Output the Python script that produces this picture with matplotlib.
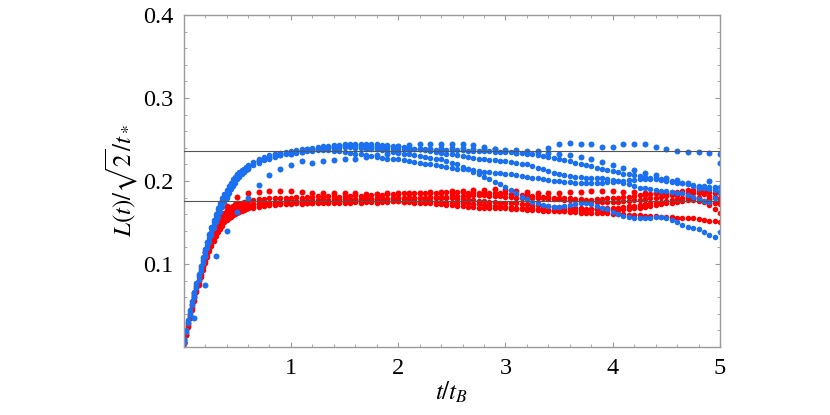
import numpy as np
import matplotlib
matplotlib.use("Agg")
import matplotlib.pyplot as plt
from matplotlib.ticker import MultipleLocator, FixedLocator

plt.rcParams['font.family'] = ['Liberation Serif', 'STIXGeneral']
plt.rcParams['mathtext.fontset'] = 'stix'

# time samples (t / t_B): dense runs are sampled finely during the rise
T_EARLY = np.round(np.arange(0, 0.59, 0.02), 2)
T_LATE = np.round(np.arange(0.6, 5.0001, 0.05), 2)
T_DENSE = np.concatenate([T_EARLY, T_LATE])
T_SPARSE = np.round(np.arange(0, 5.0001, 0.1), 2)

# reference plateau levels
LEVEL_BLUE = 0.236
LEVEL_RED = 0.176

# ---- red runs ----
RED_SPARSE = [
    0.006, 0.065, 0.115, 0.150, 0.170, 0.181, 0.185, 0.187, 0.188, 0.188,
    0.188, 0.187, 0.186, 0.186, 0.185, 0.185, 0.185, 0.184, 0.184, 0.185,
    0.185, 0.186, 0.186, 0.187, 0.187, 0.188, 0.188, 0.189, 0.189, 0.190,
    0.189, 0.188, 0.187, 0.186, 0.186, 0.186, 0.187, 0.187, 0.188, 0.188,
    0.188, 0.187, 0.187, 0.186, 0.185, 0.184, 0.183, 0.182, 0.180, 0.178,
    0.176,
]
RED_A = [
    # rise, every 0.02
    0.006, 0.017, 0.029, 0.040, 0.052, 0.063, 0.074, 0.084, 0.094, 0.104,
    0.113, 0.121, 0.129, 0.135, 0.141, 0.147, 0.151, 0.155, 0.159, 0.162,
    0.165, 0.167, 0.169, 0.170, 0.172, 0.173, 0.174, 0.174, 0.175, 0.175,
    # from t = 0.6, every 0.05
    0.176, 0.177, 0.178, 0.178, 0.179, 0.179, 0.180, 0.180,
    0.180, 0.181, 0.180, 0.181, 0.181, 0.182, 0.181, 0.182, 0.182, 0.181,
    0.182, 0.182, 0.183, 0.182, 0.183, 0.183, 0.184, 0.183, 0.184, 0.184,
    0.184, 0.185, 0.184, 0.185, 0.185, 0.186, 0.185, 0.186, 0.186, 0.187,
    0.186, 0.187, 0.187, 0.186, 0.187, 0.186, 0.186, 0.185, 0.186, 0.185,
    0.185, 0.184, 0.184, 0.183, 0.183, 0.182, 0.182, 0.181, 0.181, 0.180,
    0.180, 0.179, 0.179, 0.178, 0.178, 0.177, 0.177, 0.178, 0.178, 0.179,
    0.179, 0.180, 0.181, 0.181, 0.182, 0.183, 0.183, 0.184, 0.185, 0.185,
    0.186, 0.187, 0.187, 0.188, 0.189, 0.189, 0.188, 0.188, 0.187, 0.186,
    0.186,
]
RED_B = [
    0.005, 0.015, 0.026, 0.037, 0.048, 0.059, 0.069, 0.079, 0.088, 0.097,
    0.106, 0.114, 0.121, 0.128, 0.134, 0.140, 0.144, 0.148, 0.152, 0.156,
    0.159, 0.161, 0.163, 0.165, 0.166, 0.167, 0.168, 0.169, 0.169, 0.170,
    0.171, 0.172, 0.173, 0.174, 0.174, 0.175, 0.175, 0.176,
    0.176, 0.176, 0.177, 0.176, 0.177, 0.177, 0.178, 0.177, 0.178, 0.178,
    0.178, 0.177, 0.178, 0.178, 0.179, 0.178, 0.179, 0.179, 0.178, 0.179,
    0.179, 0.179, 0.180, 0.179, 0.180, 0.180, 0.179, 0.180, 0.180, 0.179,
    0.179, 0.178, 0.178, 0.177, 0.177, 0.176, 0.176, 0.175, 0.175, 0.174,
    0.174, 0.173, 0.173, 0.172, 0.172, 0.171, 0.171, 0.170, 0.170, 0.169,
    0.169, 0.168, 0.168, 0.167, 0.167, 0.166, 0.166, 0.166, 0.165, 0.165,
    0.165, 0.165, 0.166, 0.166, 0.167, 0.168, 0.169, 0.170, 0.171, 0.172,
    0.173, 0.174, 0.175, 0.176, 0.177, 0.177, 0.176, 0.175, 0.174, 0.173,
    0.172,
]
RED_C = [
    0.004, 0.014, 0.024, 0.035, 0.045, 0.056, 0.066, 0.075, 0.084, 0.093,
    0.101, 0.108, 0.116, 0.122, 0.128, 0.134, 0.138, 0.142, 0.146, 0.150,
    0.153, 0.155, 0.157, 0.159, 0.160, 0.162, 0.163, 0.164, 0.165, 0.166,
    0.167, 0.168, 0.169, 0.170, 0.171, 0.171, 0.172, 0.172,
    0.172, 0.173, 0.172, 0.173, 0.173, 0.174, 0.173, 0.174, 0.174, 0.173,
    0.174, 0.174, 0.175, 0.174, 0.175, 0.175, 0.174, 0.175, 0.175, 0.176,
    0.176, 0.175, 0.176, 0.176, 0.175, 0.176, 0.176, 0.175, 0.175, 0.174,
    0.174, 0.174, 0.173, 0.173, 0.172, 0.172, 0.171, 0.171, 0.170, 0.170,
    0.169, 0.169, 0.168, 0.168, 0.167, 0.167, 0.166, 0.166, 0.165, 0.165,
    0.164, 0.164, 0.163, 0.163, 0.162, 0.162, 0.162, 0.161, 0.161, 0.161,
    0.160, 0.160, 0.160, 0.159, 0.159, 0.159, 0.158, 0.158, 0.158, 0.157,
    0.157, 0.157, 0.156, 0.156, 0.155, 0.155, 0.154, 0.153, 0.152, 0.152,
    0.151,
]
RED_D = [
    0.006, 0.017, 0.028, 0.039, 0.050, 0.061, 0.071, 0.081, 0.091, 0.100,
    0.109, 0.117, 0.125, 0.131, 0.137, 0.143, 0.148, 0.152, 0.156, 0.159,
    0.161, 0.163, 0.165, 0.167, 0.168, 0.169, 0.170, 0.170, 0.170, 0.171,
    0.171, 0.172, 0.172, 0.173, 0.173, 0.174, 0.174, 0.174,
    0.174, 0.175, 0.175, 0.174, 0.175, 0.175, 0.176, 0.175, 0.176, 0.176,
    0.176, 0.177, 0.176, 0.177, 0.177, 0.176, 0.177, 0.177, 0.176, 0.176,
    0.176, 0.175, 0.175, 0.174, 0.174, 0.173, 0.173, 0.172, 0.172, 0.171,
    0.171, 0.170, 0.170, 0.169, 0.169, 0.168, 0.168, 0.168, 0.167, 0.167,
    0.167, 0.166, 0.166, 0.166, 0.165, 0.165, 0.165, 0.164, 0.164, 0.164,
    0.164, 0.164, 0.164, 0.165, 0.165, 0.165, 0.166, 0.166, 0.167, 0.167,
    0.168, 0.168, 0.169, 0.170, 0.170, 0.171, 0.172, 0.173, 0.174, 0.175,
    0.176, 0.177, 0.178, 0.179, 0.180, 0.180, 0.179, 0.176, 0.171, 0.166,
    0.162,
]
RED_E = [
    0.005, 0.015, 0.025, 0.036, 0.047, 0.057, 0.067, 0.077, 0.087, 0.096,
    0.104, 0.111, 0.119, 0.125, 0.131, 0.137, 0.141, 0.145, 0.149, 0.153,
    0.156, 0.158, 0.160, 0.162, 0.163, 0.164, 0.165, 0.166, 0.166, 0.167,
    0.168, 0.169, 0.170, 0.171, 0.171, 0.172, 0.172, 0.173,
    0.173, 0.173, 0.174, 0.174, 0.174, 0.175, 0.175, 0.175, 0.176, 0.176,
    0.176, 0.176, 0.177, 0.177, 0.177, 0.178, 0.178, 0.178, 0.178, 0.179,
    0.179, 0.179, 0.179, 0.180, 0.180, 0.180, 0.181, 0.181, 0.181, 0.181,
    0.182, 0.182, 0.182, 0.182, 0.183, 0.183, 0.183, 0.182, 0.182, 0.182,
    0.181, 0.181, 0.180, 0.180, 0.180, 0.179, 0.179, 0.179, 0.178, 0.178,
    0.178, 0.177, 0.177, 0.177, 0.176, 0.176, 0.176, 0.175, 0.175, 0.175,
    0.175, 0.175, 0.176, 0.176, 0.177, 0.177, 0.178, 0.179, 0.180, 0.181,
    0.182, 0.183, 0.184, 0.185, 0.186, 0.186, 0.185, 0.184, 0.182, 0.181,
    0.180,
]

# ---- blue runs ----
BLUE_SPARSE_A = [
    0.010, 0.060, 0.110, 0.152, 0.182, 0.203, 0.216, 0.224, 0.228, 0.231,
    0.232, 0.235, 0.238, 0.240, 0.242, 0.243, 0.243, 0.243, 0.242, 0.242,
    0.242, 0.243, 0.244, 0.245, 0.245, 0.244, 0.244, 0.243, 0.241, 0.239,
    0.236, 0.234, 0.234, 0.236, 0.240, 0.244, 0.246, 0.245, 0.244, 0.241,
    0.241, 0.244, 0.245, 0.244, 0.241, 0.238, 0.236, 0.235, 0.235, 0.234,
    0.233,
]
BLUE_SPARSE_B = [
    0.005, 0.035, 0.075, 0.110, 0.140, 0.163, 0.180, 0.195, 0.207, 0.214,
    0.219, 0.224, 0.222, 0.224, 0.225, 0.226, 0.227, 0.229, 0.231, 0.233,
    0.235, 0.237, 0.238, 0.239, 0.240, 0.240, 0.240, 0.239, 0.238, 0.238,
    0.237, 0.237, 0.236, 0.235, 0.234, 0.233, 0.231, 0.229, 0.226, 0.223,
    0.219, 0.216, 0.213, 0.210, 0.207, 0.204, 0.201, 0.197, 0.192, 0.200,
    0.222,
]
BLUE_A = [
    0.009, 0.020, 0.031, 0.043, 0.054, 0.065, 0.076, 0.087, 0.097, 0.107,
    0.117, 0.126, 0.135, 0.143, 0.151, 0.158, 0.165, 0.171, 0.177, 0.182,
    0.187, 0.192, 0.196, 0.200, 0.203, 0.207, 0.209, 0.212, 0.214, 0.216,
    0.218, 0.222, 0.225, 0.228, 0.230, 0.232, 0.233, 0.234,
    0.235, 0.236, 0.237, 0.238, 0.238, 0.239, 0.239, 0.240, 0.240, 0.240,
    0.241, 0.241, 0.240, 0.240, 0.239, 0.238, 0.238, 0.237, 0.236, 0.235,
    0.234, 0.233, 0.232, 0.231, 0.230, 0.229, 0.228, 0.227, 0.226, 0.224,
    0.222, 0.220, 0.217, 0.214, 0.211, 0.208, 0.205, 0.202, 0.199, 0.196,
    0.193, 0.189, 0.185, 0.181, 0.178, 0.175, 0.173, 0.171, 0.170, 0.169,
    0.169, 0.170, 0.171, 0.172, 0.173, 0.173, 0.172, 0.170, 0.168, 0.166,
    0.163, 0.160, 0.158, 0.157, 0.156, 0.156, 0.156, 0.156, 0.157, 0.157,
    0.156, 0.153, 0.150, 0.147, 0.145, 0.143, 0.142, 0.139, 0.135, 0.133,
    0.138,
]
BLUE_B = [
    0.007, 0.018, 0.029, 0.039, 0.050, 0.060, 0.071, 0.081, 0.091, 0.101,
    0.110, 0.119, 0.127, 0.135, 0.143, 0.150, 0.157, 0.163, 0.169, 0.175,
    0.180, 0.185, 0.190, 0.194, 0.198, 0.202, 0.205, 0.208, 0.211, 0.213,
    0.215, 0.219, 0.222, 0.225, 0.227, 0.229, 0.231, 0.232,
    0.233, 0.234, 0.235, 0.236, 0.236, 0.237, 0.237, 0.237, 0.236, 0.236,
    0.235, 0.234, 0.233, 0.232, 0.231, 0.230, 0.229, 0.228, 0.227, 0.226,
    0.226, 0.225, 0.224, 0.223, 0.222, 0.221, 0.220, 0.219, 0.218, 0.217,
    0.216, 0.215, 0.214, 0.214, 0.213, 0.212, 0.211, 0.211, 0.210, 0.210,
    0.209, 0.208, 0.207, 0.206, 0.205, 0.204, 0.203, 0.202, 0.201, 0.200,
    0.200, 0.199, 0.199, 0.198, 0.198, 0.198, 0.198, 0.198, 0.198, 0.199,
    0.199, 0.200, 0.200, 0.201, 0.201, 0.202, 0.202, 0.202, 0.202, 0.201,
    0.200, 0.199, 0.198, 0.197, 0.196, 0.195, 0.194, 0.194, 0.193, 0.193,
    0.193,
]
BLUE_C = [
    0.008, 0.019, 0.030, 0.041, 0.052, 0.063, 0.074, 0.085, 0.095, 0.105,
    0.114, 0.123, 0.131, 0.139, 0.147, 0.154, 0.161, 0.167, 0.173, 0.179,
    0.184, 0.189, 0.194, 0.198, 0.202, 0.205, 0.208, 0.211, 0.213, 0.215,
    0.217, 0.221, 0.224, 0.227, 0.229, 0.231, 0.233, 0.234,
    0.235, 0.236, 0.237, 0.238, 0.239, 0.240, 0.240, 0.241, 0.241, 0.241,
    0.242, 0.242, 0.242, 0.241, 0.241, 0.241, 0.240, 0.240, 0.240, 0.239,
    0.239, 0.239, 0.239, 0.238, 0.238, 0.238, 0.238, 0.237, 0.237, 0.237,
    0.237, 0.237, 0.237, 0.236, 0.236, 0.236, 0.236, 0.236, 0.235, 0.235,
    0.235, 0.235, 0.234, 0.234, 0.233, 0.232, 0.231, 0.230, 0.229, 0.228,
    0.227, 0.225, 0.224, 0.222, 0.221, 0.219, 0.218, 0.216, 0.215, 0.213,
    0.212, 0.211, 0.209, 0.208, 0.207, 0.206, 0.205, 0.204, 0.203, 0.202,
    0.201, 0.200, 0.199, 0.197, 0.196, 0.194, 0.193, 0.191, 0.190, 0.189,
    0.188,
]
BLUE_D = [
    0.010, 0.021, 0.032, 0.044, 0.055, 0.066, 0.077, 0.088, 0.098, 0.108,
    0.118, 0.127, 0.136, 0.145, 0.153, 0.160, 0.167, 0.173, 0.179, 0.184,
    0.189, 0.194, 0.198, 0.202, 0.205, 0.208, 0.211, 0.213, 0.215, 0.217,
    0.219, 0.223, 0.226, 0.229, 0.231, 0.233, 0.234, 0.235,
    0.236, 0.237, 0.238, 0.239, 0.240, 0.241, 0.242, 0.242, 0.243, 0.243,
    0.244, 0.244, 0.244, 0.245, 0.245, 0.244, 0.244, 0.243, 0.243, 0.242,
    0.242, 0.241, 0.240, 0.239, 0.238, 0.237, 0.236, 0.235, 0.234, 0.233,
    0.232, 0.231, 0.230, 0.229, 0.228, 0.227, 0.226, 0.225, 0.225, 0.224,
    0.224, 0.223, 0.222, 0.221, 0.220, 0.218, 0.216, 0.214, 0.212, 0.210,
    0.208, 0.207, 0.206, 0.205, 0.205, 0.204, 0.204, 0.203, 0.203, 0.202,
    0.201, 0.200, 0.198, 0.196, 0.194, 0.192, 0.191, 0.190, 0.189, 0.188,
    0.188, 0.187, 0.186, 0.185, 0.183, 0.181, 0.178, 0.176, 0.175, 0.180,
    0.186,
]

RED = '#ff0000'
BLUE = '#1a70f0'
FRAME = '#9a9a9a'

fig = plt.figure(figsize=(8.3, 4.15), dpi=100)
ax = fig.add_axes([0.2212, 0.1639, 0.6463, 0.800])

for ys in [RED_A, RED_B, RED_C, RED_D, RED_E]:
    ax.plot(T_DENSE, ys, 'o', color=RED, ms=4.0, mew=0, zorder=2)
ax.plot(T_SPARSE, RED_SPARSE, 'o', color=RED, ms=4.3, mew=0, zorder=2)

for ys in [BLUE_A, BLUE_B, BLUE_C, BLUE_D]:
    ax.plot(T_DENSE, ys, 'o', color=BLUE, ms=4.0, mew=0, zorder=2.5)
for ys in [BLUE_SPARSE_A, BLUE_SPARSE_B]:
    ax.plot(T_SPARSE, ys, 'o', color=BLUE, ms=4.3, mew=0, zorder=2.5)

ax.axhline(LEVEL_BLUE, color='#555555', lw=0.8, zorder=3)
ax.axhline(LEVEL_RED, color='#555555', lw=0.8, zorder=3)

ax.set_xlim(0, 5)
ax.set_ylim(0, 0.4)
ax.xaxis.set_major_locator(FixedLocator([1, 2, 3, 4, 5]))
ax.xaxis.set_minor_locator(MultipleLocator(0.2))
ax.yaxis.set_major_locator(FixedLocator([0.1, 0.2, 0.3, 0.4]))
ax.yaxis.set_minor_locator(MultipleLocator(0.02))
ax.set_xticklabels(['1', '2', '3', '4', '5'])
ax.set_yticklabels(['0.1', '0.2', '0.3', '0.4'])

for s in ax.spines.values():
    s.set_color(FRAME)
    s.set_linewidth(1.0)
ax.tick_params(which='both', direction='in', top=True, right=True,
               color=FRAME, labelsize=17.5, labelcolor='black')
ax.tick_params(which='major', length=3.5, width=0.8)
ax.tick_params(which='minor', length=2, width=0.6)
ax.tick_params(axis='y', pad=7)
ax.tick_params(axis='x', pad=8)

ax.set_xlabel(r'$t/t_B$', fontsize=18)
ax.set_ylabel(r'$L(t)/\sqrt{2}/t_*$', fontsize=18)
ax.xaxis.set_label_coords(0.5, -0.10)
ax.yaxis.set_label_coords(-0.082, 0.5)

fig.savefig('out.png', dpi=100)
